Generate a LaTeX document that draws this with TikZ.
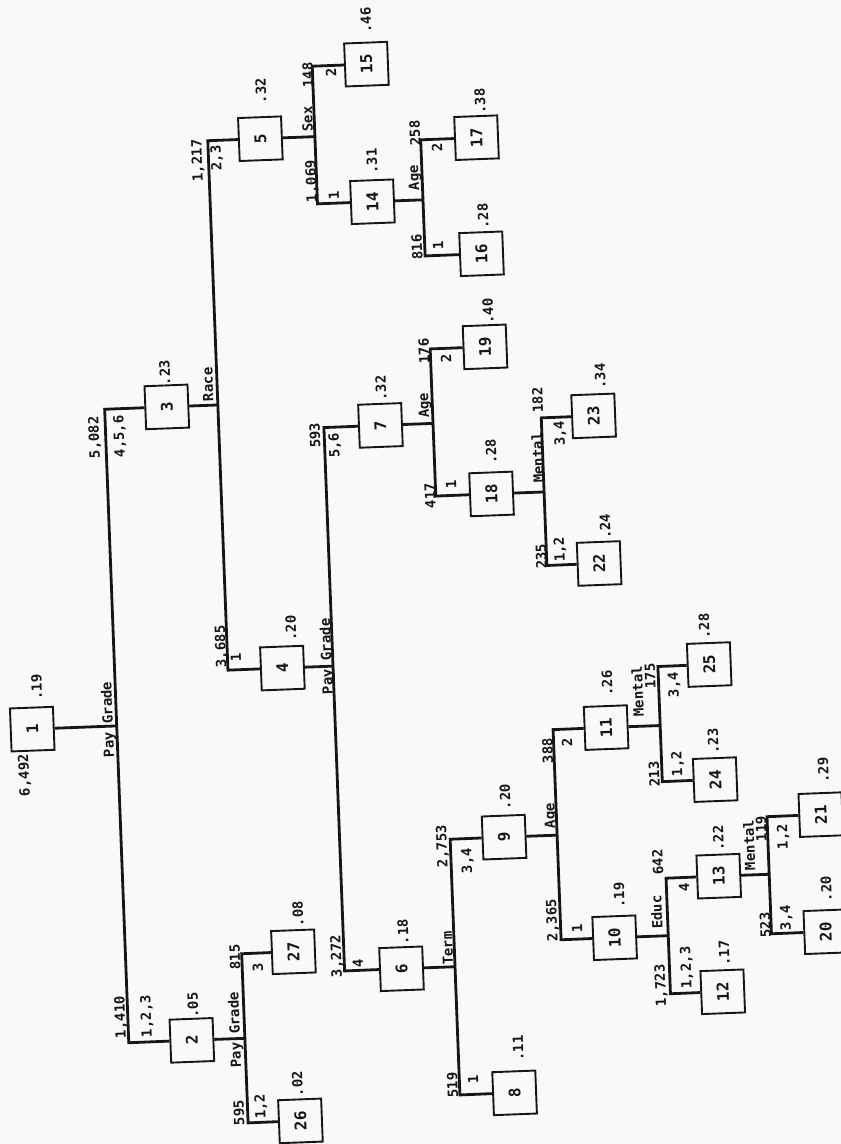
\documentclass[tikz,border=0pt]{standalone}
\usepackage{fontspec}
\setmainfont{DejaVu Sans Mono}
\definecolor{ink}{RGB}{22,22,22}
\definecolor{paper}{RGB}{249,249,247}
\tikzset{
  treebox/.style={draw=ink, line width=1.9pt, minimum size=43pt, inner sep=0pt, rotate=90,
    text=ink, font=\fontsize{16}{16}\selectfont\bfseries},
  lab/.style={inner sep=0pt, rotate=90, text=ink, font=\fontsize{14}{14}\selectfont\bfseries},
  conn/.style={draw=ink, line width=2.8pt, line join=miter}
}
% measured (image) position -> deskewed position
\newcommand\MkBox[4]{%
  \pgfmathsetmacro\tmpx{#3-0.038*(#4-572)}%
  \pgfmathsetmacro\tmpy{#4+0.038*(#3-420)}%
  \expandafter\xdef\csname bxy#1\endcsname{\tmpy}%
  \node[treebox] (#1) at (\tmpx,\tmpy) {#2};}
\newcommand\MkLab[4]{%
  \pgfmathsetmacro\tmpx{#2-0.038*(#3-572)}%
  \pgfmathsetmacro\tmpy{#3+0.038*(#2-420)}%
  \node[lab] (#1) at (\tmpx,\tmpy) {#4};}
\newcommand\MkSplit[5]{%
  \pgfmathsetmacro\tmpj{#4-0.038*(#5-572)}%
  \edef\tmpya{\csname bxy#1\endcsname}%
  \edef\tmpyb{\csname bxy#2\endcsname}%
  \edef\tmpyc{\csname bxy#3\endcsname}%
  \draw[conn] (#1) -- (\tmpj,\tmpya);
  \draw[conn] (#2) -- (\tmpj,\tmpyb) -- (\tmpj,\tmpyc) -- (#3);}
\begin{document}
\begin{tikzpicture}[x=1pt,y=-1pt]
\fill[paper] (0,0) rectangle (841,1144);
\useasboundingbox (0,0) rectangle (841,1144);
\begin{scope}[rotate around={2.18:(420,572)}, transform shape]
% boxes
\MkBox{n1}{1}{32.5}{729}
\MkBox{n2}{2}{192}{1040}
\MkBox{n3}{3}{167}{407}
\MkBox{n4}{4}{282.5}{668}
\MkBox{n5}{5}{260.5}{139}
\MkBox{n6}{6}{401.5}{968.5}
\MkBox{n7}{7}{380.5}{425.5}
\MkBox{n8}{8}{514.5}{1092.5}
\MkBox{n9}{9}{504}{837}
\MkBox{n10}{10}{614.5}{937.5}
\MkBox{n11}{11}{606}{727.5}
\MkBox{n12}{12}{722.5}{991.5}
\MkBox{n13}{13}{718.5}{876}
\MkBox{n14}{14}{372.5}{202}
\MkBox{n15}{15}{366.5}{64.5}
\MkBox{n16}{16}{481.5}{254}
\MkBox{n17}{17}{476.5}{138}
\MkBox{n18}{18}{491.5}{494}
\MkBox{n19}{19}{485}{347}
\MkBox{n20}{20}{825.5}{931.5}
\MkBox{n21}{21}{820.5}{814.5}
\MkBox{n22}{22}{599}{563.5}
\MkBox{n23}{23}{593.5}{416}
\MkBox{n24}{24}{715}{779.5}
\MkBox{n25}{25}{709}{664.5}
\MkBox{n26}{26}{300.5}{1120.5}
\MkBox{n27}{27}{293.5}{951.5}
% splits: parent, upper child, lower child, junction
\MkSplit{n1}{n3}{n2}{117}{728}
\MkSplit{n2}{n27}{n26}{245}{1038.5}
\MkSplit{n3}{n5}{n4}{218}{405}
\MkSplit{n4}{n7}{n6}{333}{664.5}
\MkSplit{n5}{n15}{n14}{315}{136.6}
\MkSplit{n14}{n17}{n16}{423}{200}
\MkSplit{n7}{n19}{n18}{433}{423}
\MkSplit{n18}{n23}{n22}{544}{492}
\MkSplit{n6}{n9}{n8}{455}{967}
\MkSplit{n9}{n11}{n10}{557}{835}
\MkSplit{n11}{n25}{n24}{660}{725.6}
\MkSplit{n10}{n13}{n12}{668}{934}
\MkSplit{n13}{n21}{n20}{769}{876}
% node values
\MkLab{v1}{37}{687}{.19}
\MkLab{v2}{193}{1005}{.05}
\MkLab{v3}{165}{373}{.23}
\MkLab{v4}{291}{628}{.20}
\MkLab{v5}{261}{91}{.32}
\MkLab{v6}{403}{931.5}{.18}
\MkLab{v7}{381}{388.5}{.32}
\MkLab{v8}{518}{1048}{.11}
\MkLab{v9}{505}{796.5}{.20}
\MkLab{v10}{619}{895}{.19}
\MkLab{v11}{607}{683}{.26}
\MkLab{v12}{724}{953}{.17}
\MkLab{v13}{718}{838}{.22}
\MkLab{v14}{372}{161.5}{.31}
\MkLab{v15}{366}{20.5}{.46}
\MkLab{v16}{483}{216.5}{.28}
\MkLab{v17}{480}{101.5}{.38}
\MkLab{v18}{491}{451.5}{.28}
\MkLab{v19}{488}{311.5}{.40}
\MkLab{v20}{826}{888.5}{.20}
\MkLab{v21}{823}{770}{.29}
\MkLab{v22}{605}{526.5}{.24}
\MkLab{v23}{600}{376.5}{.34}
\MkLab{v24}{713}{741}{.23}
\MkLab{v25}{704}{626}{.28}
\MkLab{v26}{297.5}{1083.5}{.02}
\MkLab{v27}{298}{913.5}{.08}
% split variables
\MkLab{s1}{109}{719.5}{Pay Grade}
\MkLab{s2}{236}{1029.5}{Pay Grade}
\MkLab{s3}{208}{384.5}{Race}
\MkLab{s4}{327.5}{656.5}{Pay Grade}
\MkLab{s5}{307.5}{119.5}{Sex}
\MkLab{s6}{415}{178}{Age}
\MkLab{s7}{425}{405.5}{Age}
\MkLab{s8}{537.5}{458}{Mental}
\MkLab{s9}{447.5}{948}{Term}
\MkLab{s10}{551}{815.5}{Age}
\MkLab{s11}{637.5}{691.5}{Mental}
\MkLab{s12}{656.5}{912}{Educ}
\MkLab{s13}{749}{845}{Mental}
% counts
\MkLab{c1}{25}{775}{6,492}
\MkLab{c2}{121}{1017}{1,410}
\MkLab{c3}{95}{437.5}{5,082}
\MkLab{c4}{221.5}{646.5}{3,685}
\MkLab{c5}{198}{161}{1,217}
\MkLab{c6}{337}{956}{3,272}
\MkLab{c7}{315}{435.5}{593}
\MkLab{c8}{452.5}{1085}{519}
\MkLab{c9}{442.5}{846}{2,753}
\MkLab{c10}{552.5}{920}{2,365}
\MkLab{c11}{547.5}{750.5}{388}
\MkLab{c12}{661}{985.5}{1,723}
\MkLab{c13}{657.5}{862}{642}
\MkLab{c14}{312}{181.5}{1,069}
\MkLab{c15}{308}{75.5}{148}
\MkLab{c16}{417}{247.5}{816}
\MkLab{c17}{415}{133.5}{258}
\MkLab{c18}{430}{496}{417}
\MkLab{c19}{424}{351.5}{176}
\MkLab{c20}{765}{925}{523}
\MkLab{c21}{761}{828.5}{119}
\MkLab{c22}{541}{556.5}{235}
\MkLab{c23}{537.5}{400.5}{182}
\MkLab{c24}{654}{774}{213}
\MkLab{c25}{650}{676}{175}
\MkLab{c26}{239}{1112.5}{595}
\MkLab{c27}{235}{957}{815}
% categories
\MkLab{k2}{147}{1016}{1,2,3}
\MkLab{k3}{120}{436.5}{4,5,6}
\MkLab{k4}{236}{657.5}{1}
\MkLab{k5}{217}{158.5}{2,3}
\MkLab{k6}{358}{963}{4}
\MkLab{k7}{335}{445.5}{5,6}
\MkLab{k8}{473}{1079.5}{1}
\MkLab{k9}{467.5}{860.5}{3,4}
\MkLab{k10}{577}{928}{1}
\MkLab{k11}{567}{742.5}{2}
\MkLab{k12}{686.5}{967.5}{1,2,3}
\MkLab{k13}{684}{887.5}{4}
\MkLab{k14}{334}{196}{1}
\MkLab{k15}{331}{73}{2}
\MkLab{k16}{438}{246}{1}
\MkLab{k17}{437}{148}{2}
\MkLab{k18}{451}{485}{1}
\MkLab{k19}{446}{359}{2}
\MkLab{k20}{786}{917.5}{3,4}
\MkLab{k21}{783}{836.5}{1,2}
\MkLab{k22}{560}{549.5}{1,2}
\MkLab{k23}{560}{433.5}{3,4}
\MkLab{k24}{677.5}{763.5}{1,2}
\MkLab{k25}{674}{684.5}{3,4}
\MkLab{k26}{261}{1106}{1,2}
\MkLab{k27}{258}{967.5}{3}
\end{scope}
\end{tikzpicture}
\end{document}
